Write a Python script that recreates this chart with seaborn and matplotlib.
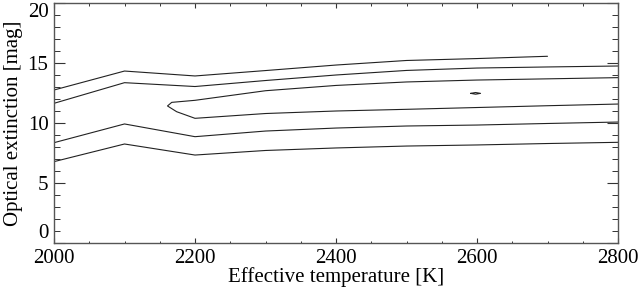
import numpy as np
import pandas as pd
import seaborn as sns
import matplotlib.pyplot as plt
from matplotlib.ticker import MultipleLocator

sns.set_theme(style="white")
plt.rcParams['font.family'] = ['Liberation Serif', 'DejaVu Serif']

# contour paths (Teff [K], Av [mag])
c1_t = [2000, 2100, 2200, 2300, 2400, 2500, 2600, 2700]
c1_av = [12.75, 14.33, 13.92, 14.37, 14.83, 15.21, 15.37, 15.56]

c2_t = [2000, 2100, 2200, 2300, 2400, 2500, 2600, 2700, 2800]
c2_av = [11.64, 13.36, 13.04, 13.54, 14.0, 14.38, 14.58, 14.67, 14.75]

c3_t = [2800, 2700, 2600, 2500, 2400, 2300, 2200, 2167, 2161, 2174,
        2200, 2300, 2400, 2500, 2600, 2700, 2800]
c3_av = [13.78, 13.68, 13.58, 13.42, 13.13, 12.69, 11.89, 11.72, 11.42, 10.94,
         10.39, 10.79, 11.0, 11.14, 11.29, 11.44, 11.58]

c4_t = [2000, 2100, 2200, 2300, 2400, 2500, 2600, 2700, 2800]
c4_av = [8.36, 9.92, 8.86, 9.33, 9.58, 9.75, 9.83, 9.96, 10.08]

c5_t = [2000, 2100, 2200, 2300, 2400, 2500, 2600, 2700, 2800]
c5_av = [6.78, 8.25, 7.33, 7.71, 7.92, 8.08, 8.17, 8.29, 8.39]

c6_t = [2591, 2598, 2605, 2598, 2591]
c6_av = [12.47, 12.54, 12.47, 12.40, 12.47]

paths = [(c1_t, c1_av), (c2_t, c2_av), (c3_t, c3_av),
         (c4_t, c4_av), (c5_t, c5_av), (c6_t, c6_av)]
frames = []
for i, (t, av) in enumerate(paths):
    frames.append(pd.DataFrame({"Teff": t, "Av": av, "level": i}))
df = pd.concat(frames, ignore_index=True)

fig = plt.figure(figsize=(6.38, 2.95), dpi=100)
ax = fig.add_axes([54 / 638, 1 - 243 / 295, 564 / 638, 240 / 295])

sns.lineplot(data=df, x="Teff", y="Av", units="level", estimator=None, sort=False,
             color="#222222", linewidth=0.8, ax=ax)

ax.set_xlim(2000, 2800)
ax.set_ylim(0, 20)
ax.xaxis.set_major_locator(MultipleLocator(200))
ax.xaxis.set_minor_locator(MultipleLocator(50))
ax.yaxis.set_major_locator(MultipleLocator(5))
ax.yaxis.set_minor_locator(MultipleLocator(1))

ax.tick_params(axis="x", which="major", direction="in", length=3.6, width=0.8,
               top=True, bottom=True, labelsize=15, pad=4, color="#333333")
ax.tick_params(axis="x", which="minor", direction="in", length=1.8, width=0.7,
               top=True, bottom=True, color="#333333")
ax.tick_params(axis="y", which="major", direction="in", length=8, width=0.8,
               left=True, right=True, labelsize=15, pad=4, color="#333333")
ax.tick_params(axis="y", which="minor", direction="in", length=4, width=0.7,
               left=True, right=True, color="#333333")

for s in ax.spines.values():
    s.set_color("#555555")
    s.set_linewidth(1.0)

ax.set_xlabel("Effective temperature [K]", fontsize=15, color="black", labelpad=0)
ax.set_ylabel("Optical extinction [mag]", fontsize=15, color="black", labelpad=3)
ax.tick_params(labelcolor="black")
ax.grid(False)
if ax.get_legend() is not None:
    ax.get_legend().remove()

# keep the end labels inside the axes height like the original
fig.canvas.draw()
for tick in ax.yaxis.get_major_ticks():
    if np.isclose(tick.get_loc(), 0):
        tick.label1.set_verticalalignment("bottom")
    elif np.isclose(tick.get_loc(), 20):
        tick.label1.set_verticalalignment("top")

fig.savefig("out.png", dpi=100)
